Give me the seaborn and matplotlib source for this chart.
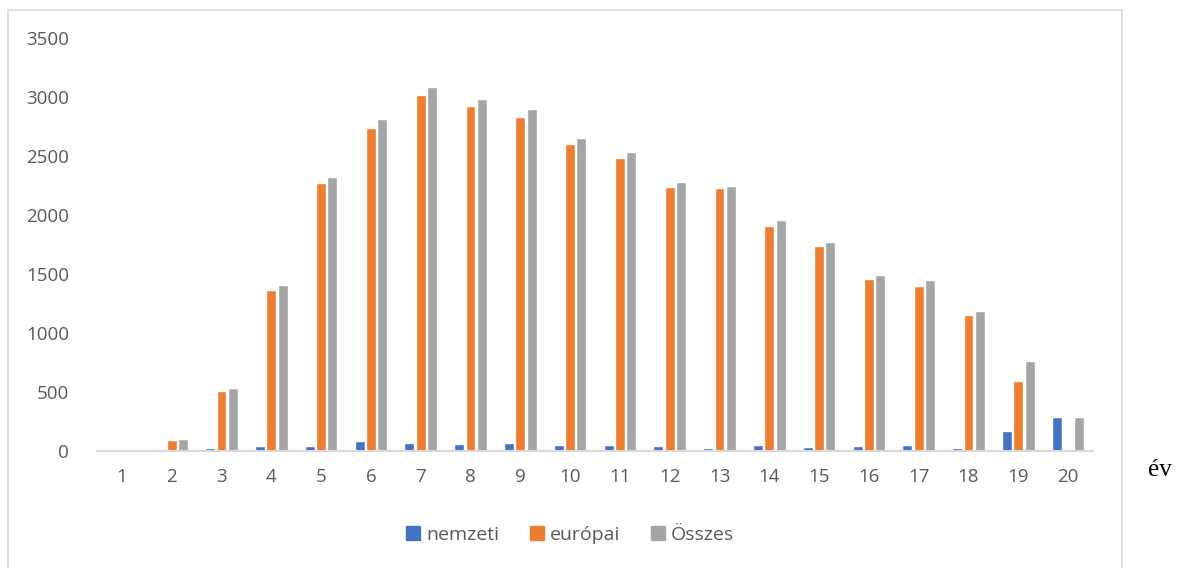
import pandas as pd
import numpy as np
import matplotlib.pyplot as plt
import seaborn as sns
from matplotlib.patches import Rectangle

# Adatok (leolvasva az ábráról)
evek = [str(i) for i in range(1, 21)]
nemzeti = [0, 0, 25, 46, 46, 82, 65, 59, 71, 51, 51, 40, 23, 48, 37, 40, 48, 25, 167, 286]
europai = [0, 97, 508, 1365, 2275, 2735, 3015, 2925, 2830, 2600, 2480, 2235, 2225, 1910, 1740, 1455, 1400, 1155, 590, 0]
osszes = [0, 105, 537, 1410, 2320, 2815, 3085, 2985, 2900, 2655, 2530, 2280, 2250, 1960, 1775, 1495, 1445, 1185, 760, 286]
sorozatok = ['nemzeti', 'európai', 'Összes']
szinek = ['#4472C4', '#ED7D31', '#A5A5A5']

df = pd.DataFrame({'ev': evek, 'nemzeti': nemzeti, 'európai': europai, 'Összes': osszes})
df = df.melt(id_vars='ev', var_name='sorozat', value_name='ertek')

sns.set_style('white')
plt.rcParams['font.family'] = ['Open Sans', 'DejaVu Sans']

fig = plt.figure(figsize=(11.89, 5.68), dpi=100)
ax = fig.add_axes([97 / 1189, 1 - 451 / 568, 996 / 1189, 413 / 568])

sns.barplot(data=df, x='ev', y='ertek', hue='sorozat', hue_order=sorozatok,
            palette=szinek, width=0.68, gap=0.12, ax=ax, legend=False,
            saturation=1)

ax.set_ylim(0, 3500)
ax.set_xlim(-0.5, 19.5)
ax.set_yticks(np.arange(0, 3501, 500))
ax.set_xlabel('')
ax.set_ylabel('')
for s in ['top', 'right', 'left']:
    ax.spines[s].set_visible(False)
ax.spines['bottom'].set_color('#D9D9D9')
ax.spines['bottom'].set_linewidth(1.5)
ax.tick_params(axis='both', length=0, labelsize=13.5, colors='#595959')
ax.tick_params(axis='y', pad=20)
ax.tick_params(axis='x', pad=12)

# Keret
fig.patches.append(Rectangle((8 / 1189, -0.01), 1114 / 1189, 1 - 10 / 568 + 0.01,
                             transform=fig.transFigure, fill=False,
                             edgecolor='#D9D9D9', linewidth=1.2))

# Jelmagyarázat
handles = [Rectangle((0, 0), 1, 1, color=c) for c in szinek]
fig.legend(handles, sorozatok, loc='center', bbox_to_anchor=(570 / 1189, 1 - 535 / 568),
           ncol=3, frameon=False, handlelength=0.7, handleheight=0.7,
           handletextpad=0.3, columnspacing=1.6, fontsize=14, labelcolor='#595959')

fig.text(1160 / 1189, 1 - 470 / 568, 'év', family=['Liberation Serif', 'DejaVu Serif'],
         fontsize=18, ha='center', va='center', color='black')

fig.savefig('out.png', dpi=100)
